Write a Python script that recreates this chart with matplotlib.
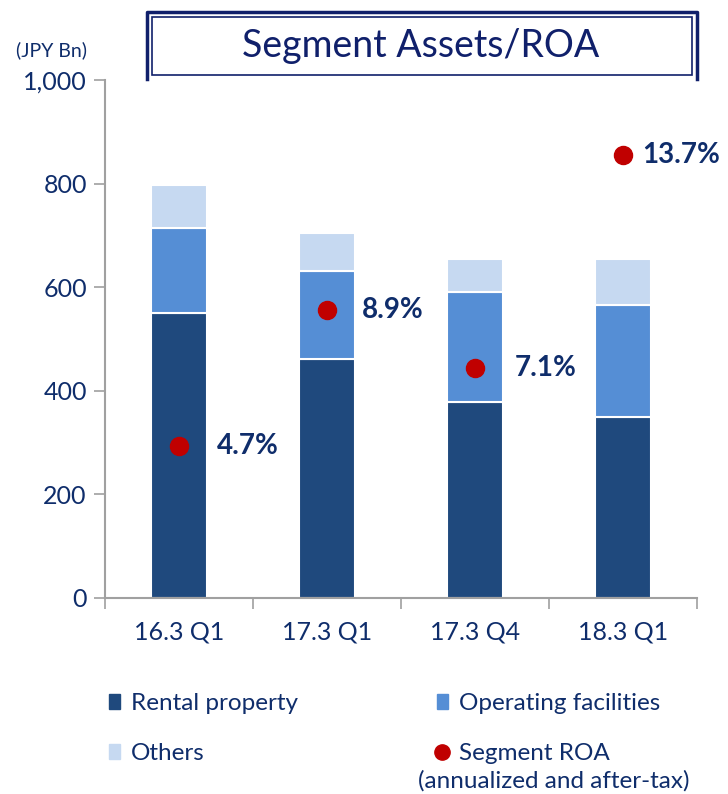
import numpy as np
import matplotlib.pyplot as plt
from matplotlib.patches import Rectangle, Patch
from matplotlib.lines import Line2D

plt.rcParams['font.family'] = ['Lato', 'DejaVu Sans']

# datos
periodos = ['16.3 Q1', '17.3 Q1', '17.3 Q4', '18.3 Q1']
alquiler = [550, 462, 378, 350]
operacion = [165, 170, 212, 215]
otros = [83, 73, 65, 90]
roa = [4.7, 8.9, 7.1, 13.7]
roa_txt = ['4.7%', '8.9%', '7.1%', '13.7%']

azul_osc = '#1F497D'
azul_med = '#558ED5'
azul_cla = '#C6D9F1'
rojo = '#C00000'
marino = '#0F2D6B'
borde = '#10206B'

fig = plt.figure(figsize=(7.28, 7.94), dpi=100)
ax = fig.add_axes([0.144, 0.247, 0.813, 0.652])

x = np.arange(len(periodos))
ancho = 0.38
base2 = np.array(alquiler)
base3 = base2 + np.array(operacion)
ax.bar(x, alquiler, ancho, color=azul_osc, edgecolor='white', linewidth=1.5)
ax.bar(x, operacion, ancho, bottom=base2, color=azul_med, edgecolor='white', linewidth=1.5)
ax.bar(x, otros, ancho, bottom=base3, color=azul_cla, edgecolor='white', linewidth=1.5)

ax.set_xlim(-0.5, 3.5)
ax.set_ylim(0, 1000)
ax.set_yticks([0, 200, 400, 600, 800, 1000])
ax.set_yticklabels(['0', '200', '400', '600', '800', '1,000'])
ax.set_xticks([-0.5, 0.5, 1.5, 2.5, 3.5])
ax.set_xticklabels([])
ax.set_xticks(x, minor=True)
ax.set_xticklabels(periodos, minor=True)
ax.tick_params(axis='x', which='minor', length=0, pad=16, labelsize=18, labelcolor=marino)
ax.tick_params(axis='x', which='major', length=8, color='#A0A0A0', width=1.2)
ax.tick_params(axis='y', length=8, color='#A0A0A0', width=1.2, labelsize=18,
               labelcolor=marino, pad=5)
for s in ['top', 'right']:
    ax.spines[s].set_visible(False)
for s in ['left', 'bottom']:
    ax.spines[s].set_color('#A0A0A0')
    ax.spines[s].set_linewidth(1.5)

# ROA en eje secundario oculto
ax2 = ax.twinx()
ax2.set_ylim(0, 16)
ax2.axis('off')
ax2.plot(x, roa, 'o', color=rojo, markersize=13, linestyle='none')
desplaz = [0.26, 0.24, 0.27, 0.13]
for xi, v, t, d in zip(x, roa, roa_txt, desplaz):
    ax2.text(xi + d, v, t, ha='left', va='center', fontsize=20,
             fontweight='bold', color=marino)

# caja del título (el borde exterior queda abierto abajo)
fig.add_artist(Line2D([0.202, 0.202, 0.957, 0.957], [0.900, 0.985, 0.985, 0.900],
                      transform=fig.transFigure, color=borde, linewidth=2.5))
fig.patches.append(Rectangle((0.209, 0.906), 0.741, 0.073, transform=fig.transFigure,
                             fill=False, edgecolor=borde, linewidth=1.2))
fig.text(0.578, 0.942, 'Segment Assets/ROA', ha='center', va='center',
         fontsize=27, color=borde)
fig.text(0.022, 0.937, '(JPY Bn)', ha='left', va='center', fontsize=14, color=marino)

# leyenda
manijas = [Patch(color=azul_osc), Patch(color=azul_cla),
           Patch(color=azul_med),
           Line2D([], [], marker='o', color=rojo, linestyle='none', markersize=11)]
etiquetas = ['Rental property', 'Others', 'Operating facilities', 'Segment ROA']
fig.legend(manijas, etiquetas, ncol=2, loc='upper left', bbox_to_anchor=(0.12, 0.155),
           frameon=False, fontsize=17.5, labelcolor=marino, handlelength=0.45,
           handleheight=0.55, handletextpad=0.45, columnspacing=5.7, labelspacing=1.2)
fig.text(0.574, 0.016, '(annualized and after-tax)', ha='left', va='center',
         fontsize=17.5, color=marino)

plt.savefig('out.png', dpi=100)
